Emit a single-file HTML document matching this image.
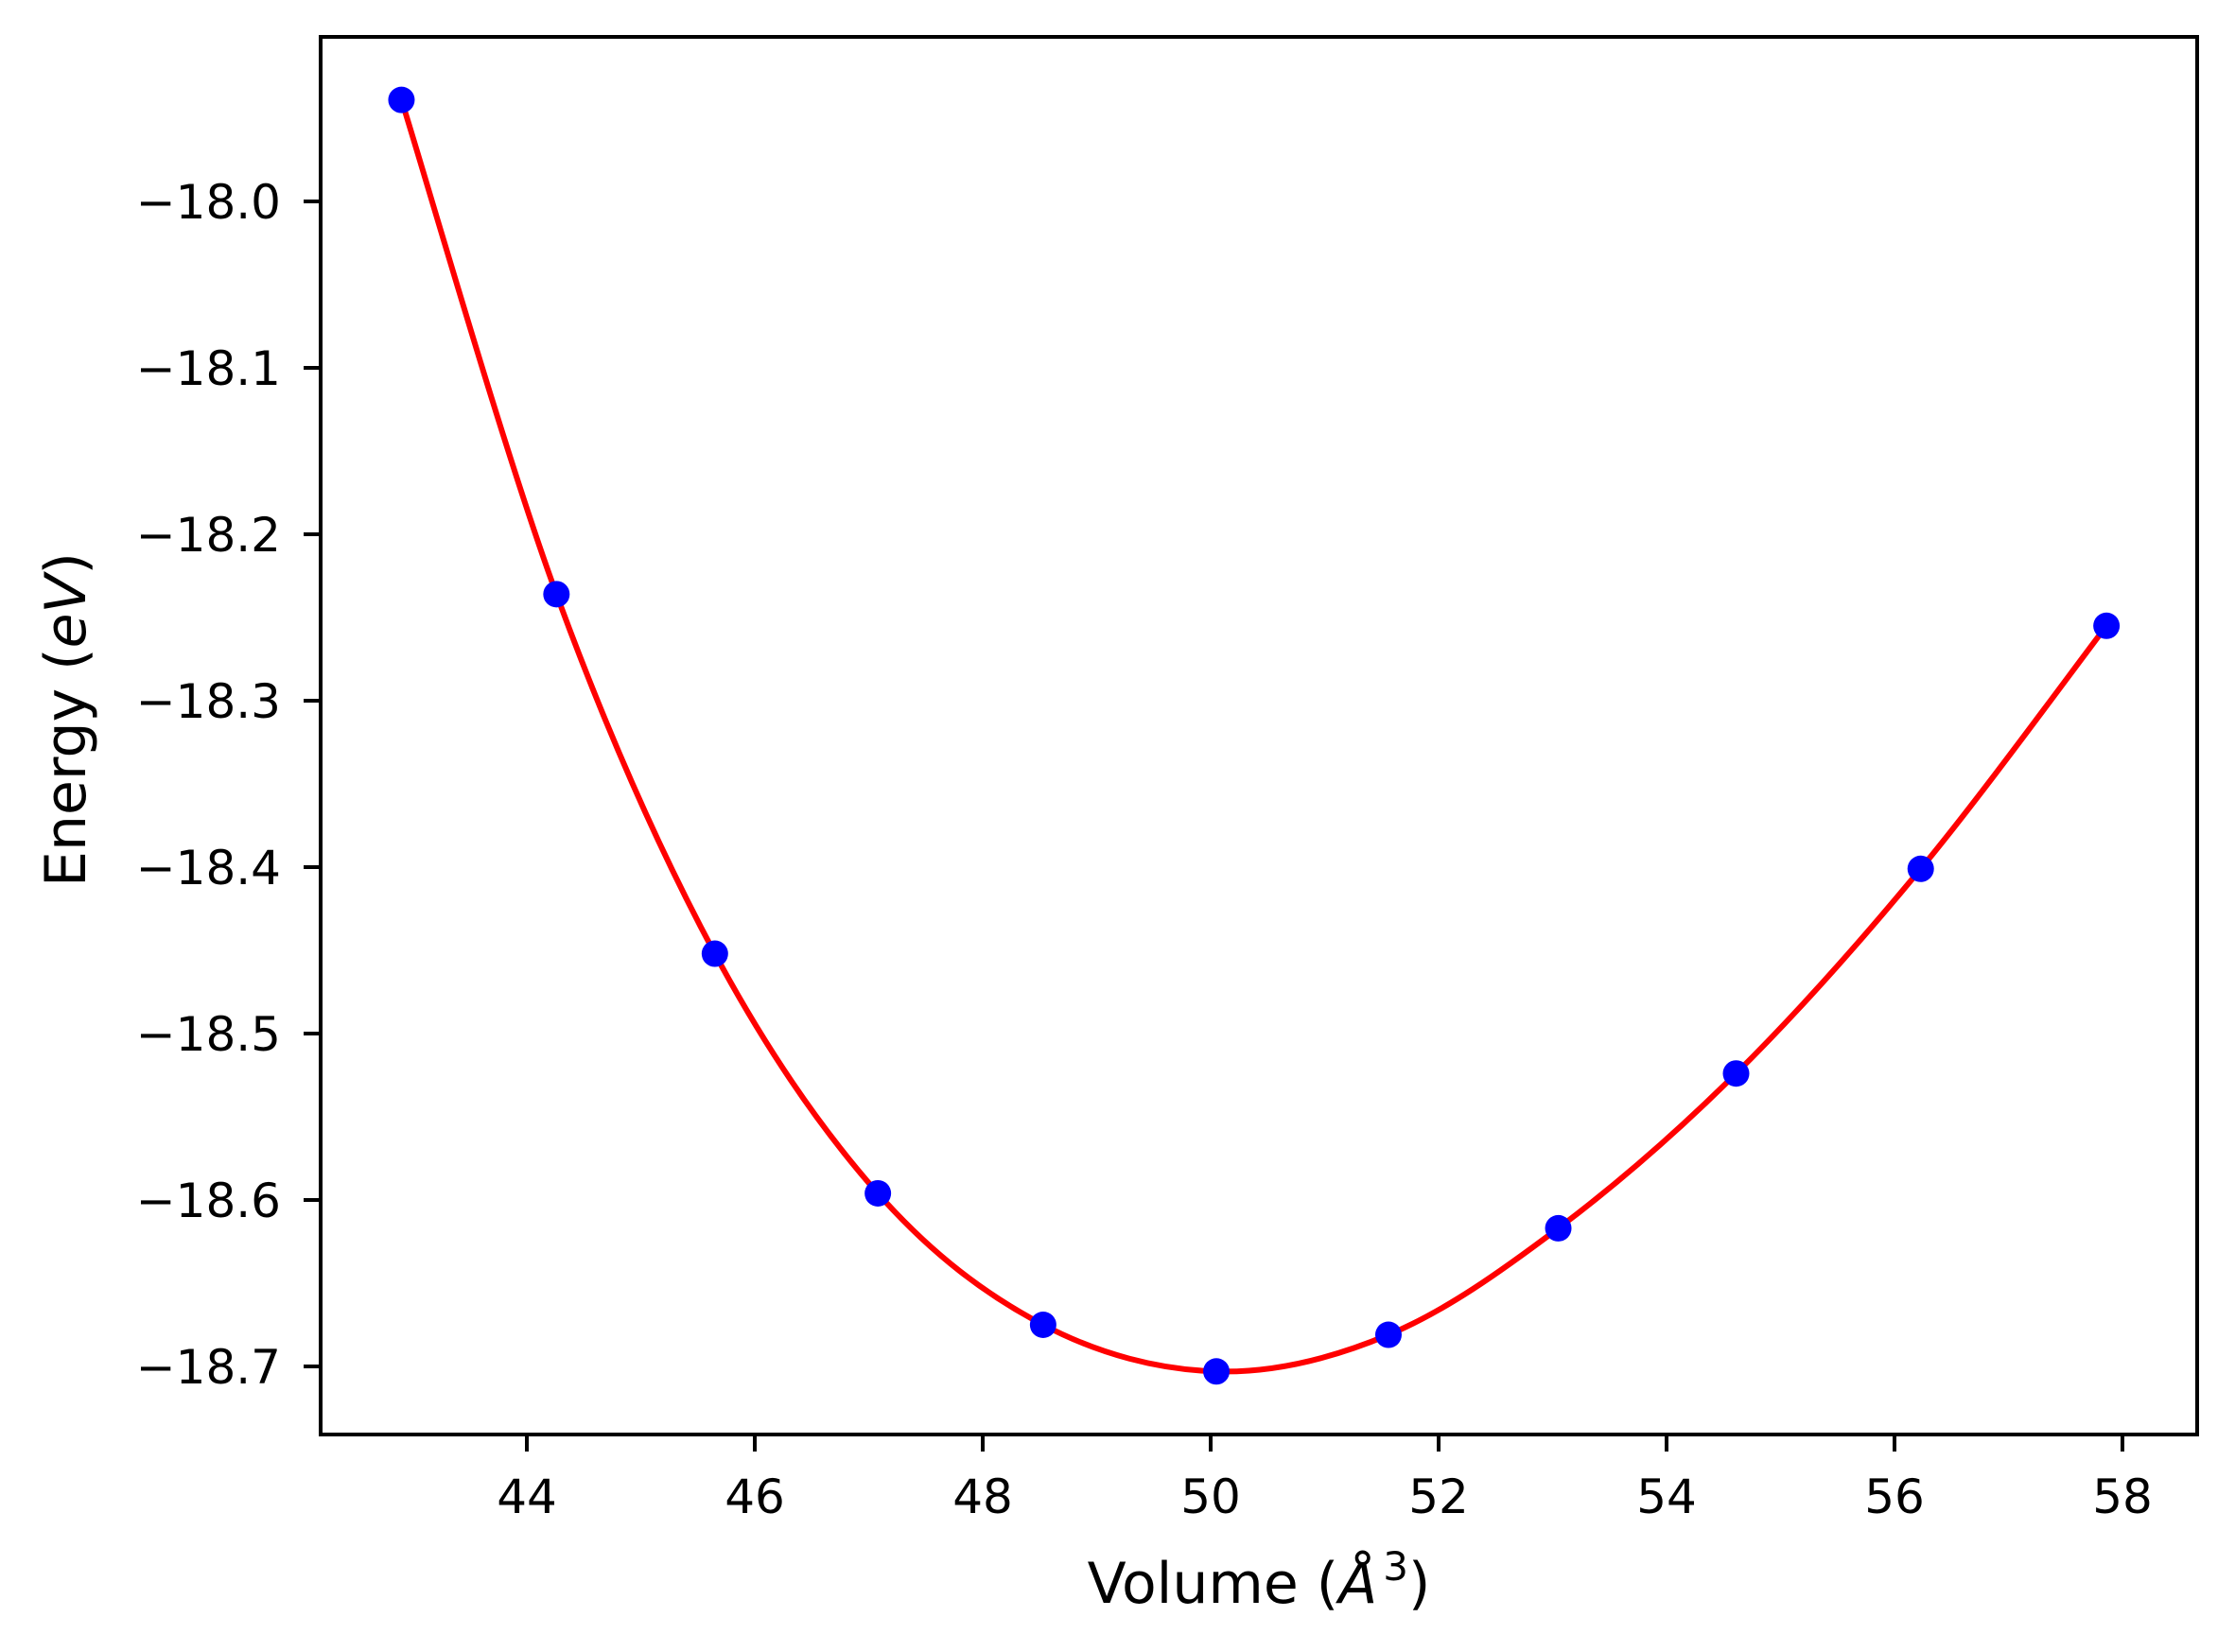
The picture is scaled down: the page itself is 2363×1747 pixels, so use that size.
<!DOCTYPE html>
<html><head><meta charset="utf-8"><style>
html,body{margin:0;padding:0;background:#fff;}
svg{display:block;font-family:"DejaVu Sans","Liberation Sans",sans-serif;}
</style></head><body>
<svg id="chart" width="2363" height="1747" viewBox="0 0 2363 1747" xmlns="http://www.w3.org/2000/svg">
<rect x="0" y="0" width="2363" height="1747" fill="#fff"/>
<g id="grid-ticks"></g>
<g id="plot"></g>
<rect x="339" y="39" width="1984" height="1478" fill="none" stroke="#000" stroke-width="4"/>
<text x="1331" y="1695" font-size="60" text-anchor="middle">Volume (<tspan font-style="italic">Å</tspan><tspan font-size="42" dy="-24" dx="6">3</tspan><tspan dy="24">)</tspan></text>
<text transform="translate(90,761) rotate(-90)" font-size="60" text-anchor="middle">Energy (<tspan font-style="italic">eV</tspan>)</text>
</svg>
<script>
const volumes = [42.9, 44.26, 45.65, 47.08, 48.53, 50.05, 51.56, 53.05, 54.61, 56.23, 57.86];
const energies = [-17.939, -18.236, -18.452, -18.596, -18.675, -18.703, -18.681, -18.617, -18.524, -18.401, -18.255];
const xTicks = [44, 46, 48, 50, 52, 54, 56, 58];
const yTicks = [-18.0, -18.1, -18.2, -18.3, -18.4, -18.5, -18.6, -18.7];

const NS = "http://www.w3.org/2000/svg";
function sx(v){ return 1280 + (v - 50) * 120.5; }
function sy(v){ return 213 + (-18.0 - v) * 1760; }

const tg = document.getElementById('grid-ticks');
xTicks.forEach(t => {
  const l = document.createElementNS(NS, 'line');
  l.setAttribute('x1', sx(t)); l.setAttribute('x2', sx(t));
  l.setAttribute('y1', 1517); l.setAttribute('y2', 1535);
  l.setAttribute('stroke', '#000'); l.setAttribute('stroke-width', 4);
  
  
  tg.appendChild(l);
  const tx = document.createElementNS(NS, 'text');
  tx.setAttribute('x', sx(t)); tx.setAttribute('y', 1600);
  tx.setAttribute('font-size', 50); tx.setAttribute('text-anchor', 'middle');
  tx.textContent = String(t);
  
  
  tg.appendChild(tx);
});
yTicks.forEach(t => {
  const l = document.createElementNS(NS, 'line');
  l.setAttribute('x1', 321); l.setAttribute('x2', 339);
  l.setAttribute('y1', sy(t)); l.setAttribute('y2', sy(t));
  l.setAttribute('stroke', '#000'); l.setAttribute('stroke-width', 4);
  
  
  tg.appendChild(l);
  const tx = document.createElementNS(NS, 'text');
  tx.setAttribute('x', 297); tx.setAttribute('y', sy(t) + 18);
  tx.setAttribute('font-size', 50); tx.setAttribute('text-anchor', 'end');
  tx.textContent = '\u2212' + Math.abs(t).toFixed(1);
  
  
  tg.appendChild(tx);
});

const pg = document.getElementById('plot');
// smooth curve through points (Catmull-Rom)
const P = volumes.map((v, i) => [sx(v), sy(energies[i])]);
let d = 'M' + P[0][0] + ',' + P[0][1];
for (let i = 0; i < P.length - 1; i++) {
  const p0 = P[Math.max(0, i - 1)], p1 = P[i], p2 = P[i + 1], p3 = P[Math.min(P.length - 1, i + 2)];
  const c1x = p1[0] + (p2[0] - p0[0]) / 6, c1y = p1[1] + (p2[1] - p0[1]) / 6;
  const c2x = p2[0] - (p3[0] - p1[0]) / 6, c2y = p2[1] - (p3[1] - p1[1]) / 6;
  d += ' C' + c1x + ',' + c1y + ' ' + c2x + ',' + c2y + ' ' + p2[0] + ',' + p2[1];
}
const path = document.createElementNS(NS, 'path');
path.setAttribute('d', d);
path.setAttribute('fill', 'none'); path.setAttribute('stroke', '#ff0000'); path.setAttribute('stroke-width', 6);


pg.appendChild(path);
volumes.forEach((v, i) => {
  const c = document.createElementNS(NS, 'circle');
  c.setAttribute('cx', sx(v)); c.setAttribute('cy', sy(energies[i])); c.setAttribute('r', 14);
  c.setAttribute('fill', '#0000ff');
  
  
  pg.appendChild(c);
});
</script>
</body></html>
